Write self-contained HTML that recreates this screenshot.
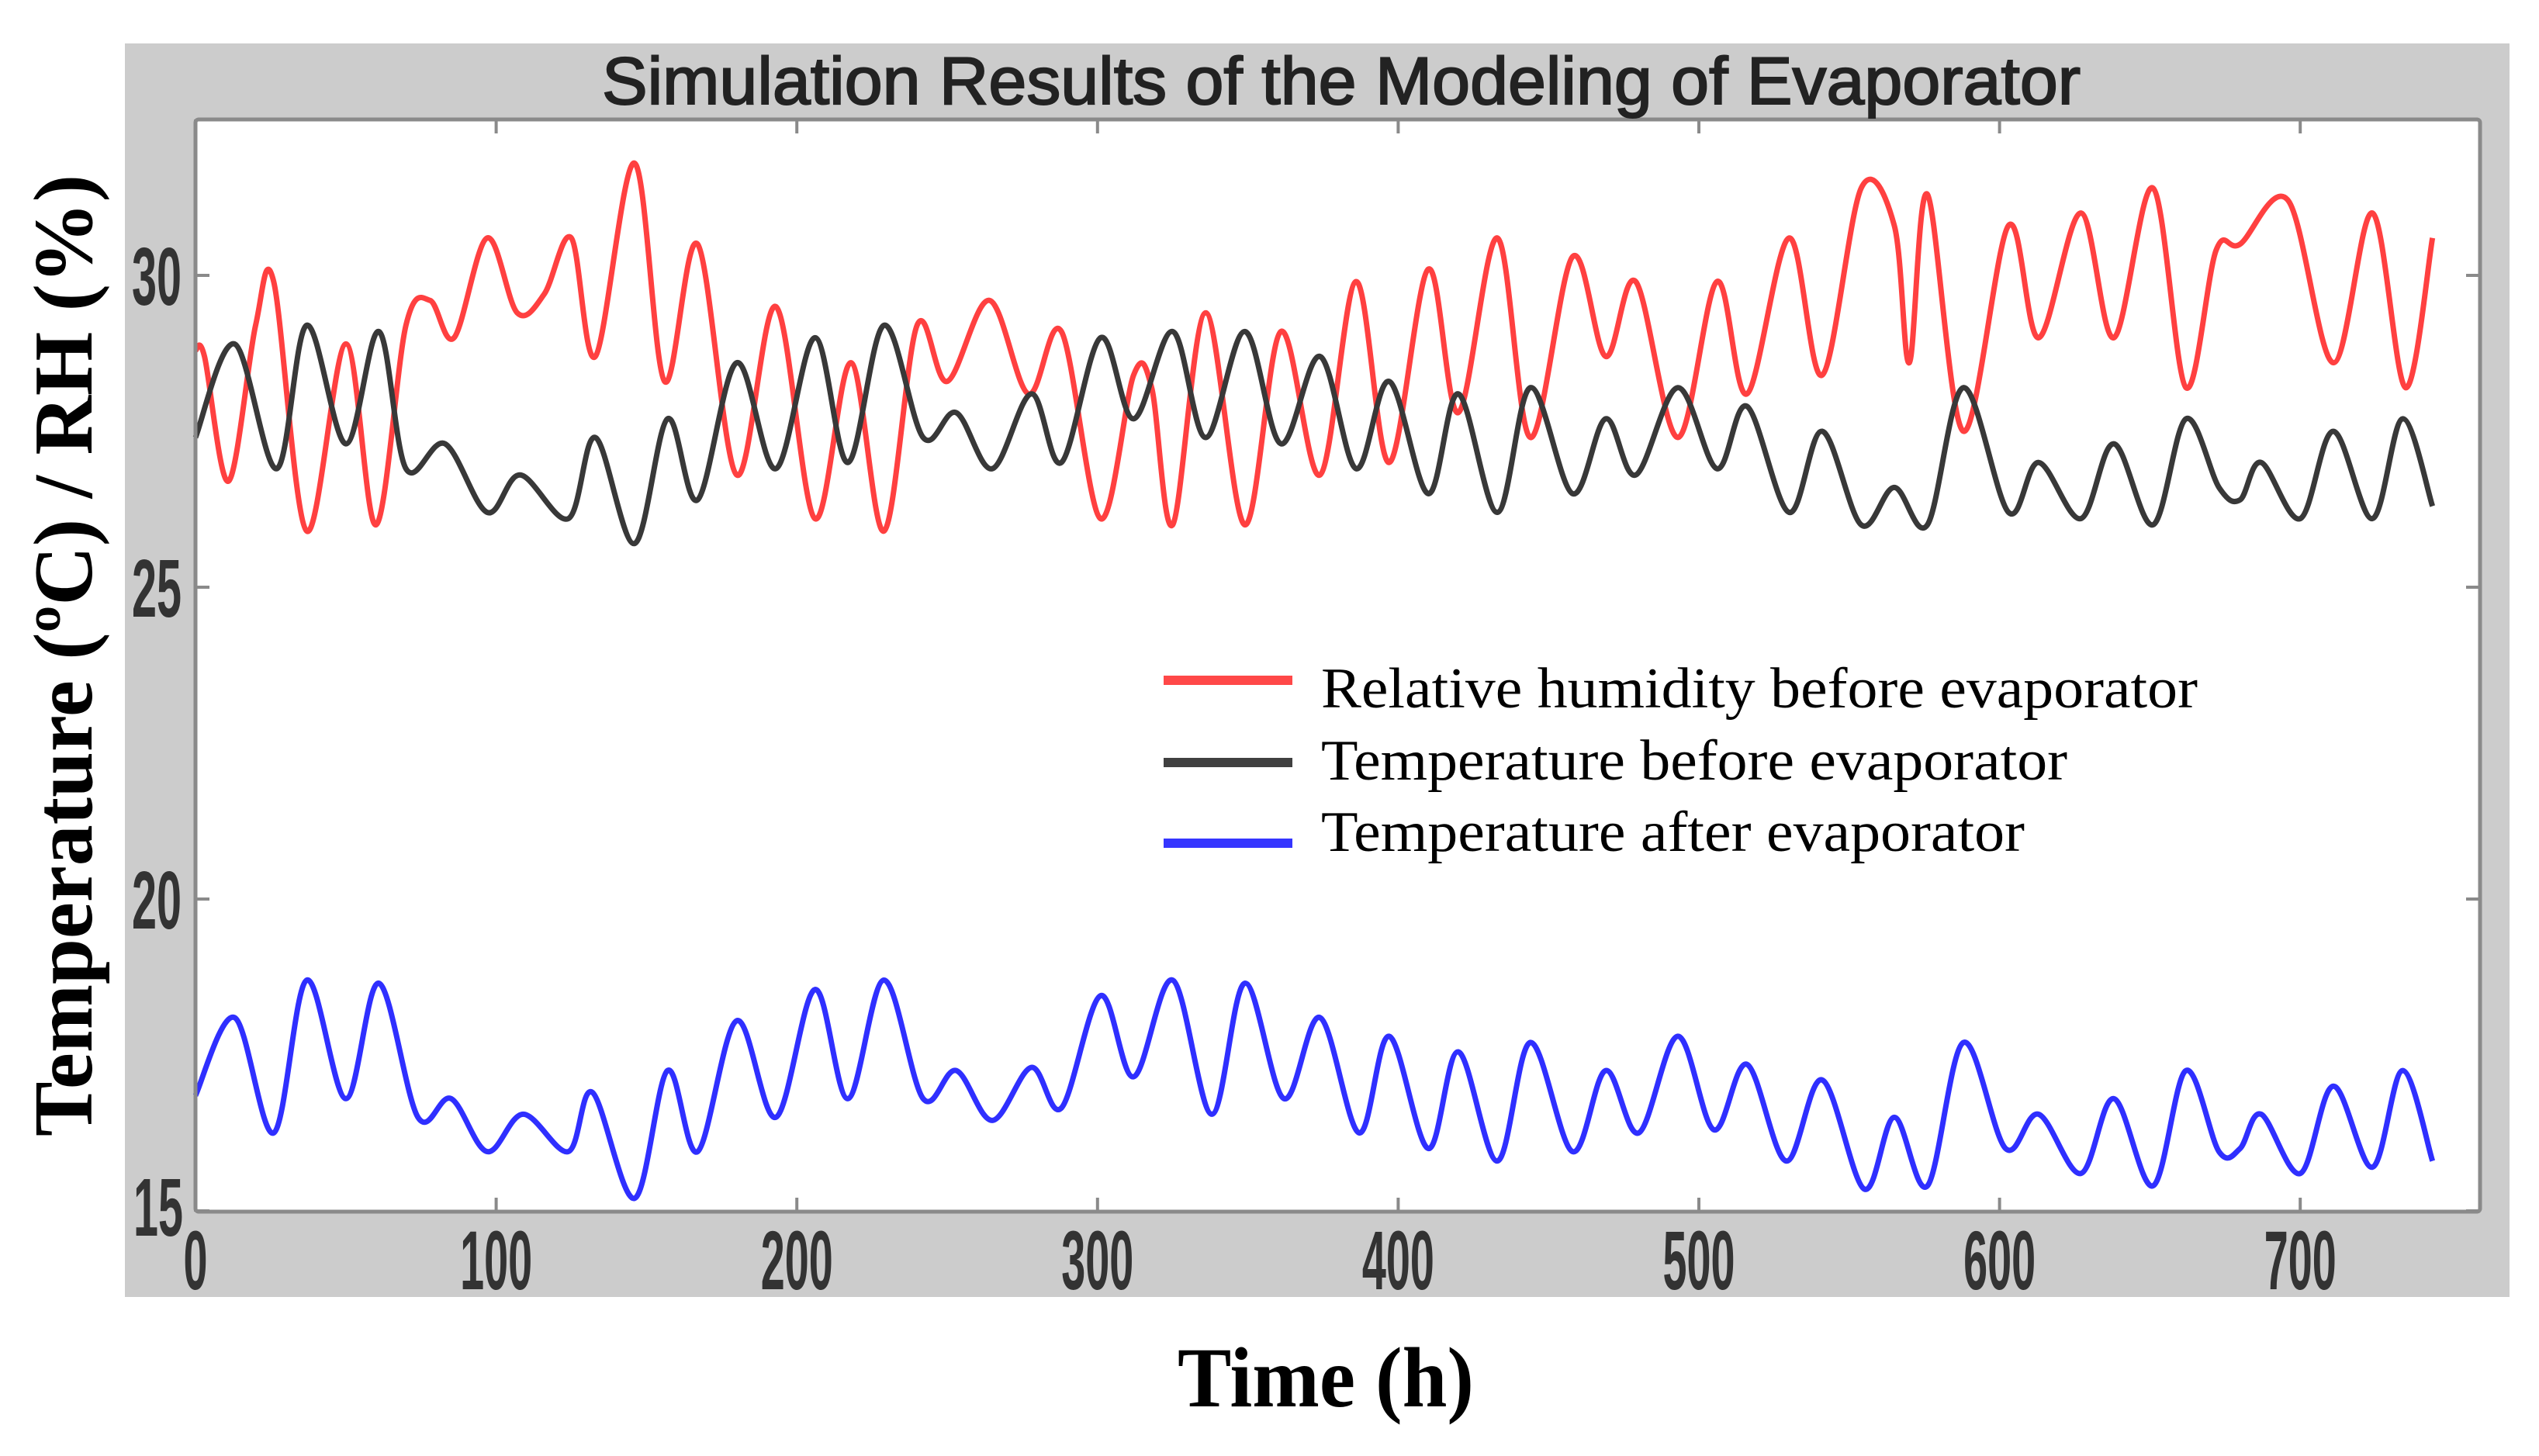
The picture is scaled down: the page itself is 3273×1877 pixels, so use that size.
<!DOCTYPE html>
<html><head><meta charset="utf-8"><style>
html,body{margin:0;padding:0;background:#fff;}
svg{display:block;}
</style></head><body>
<svg id="chart" width="3273" height="1877" viewBox="0 0 3273 1877" xmlns="http://www.w3.org/2000/svg">
<rect x="161" y="56" width="3074" height="1616" fill="#cccccc"/>
<rect x="252" y="154" width="2945" height="1408" fill="#ffffff"/>
<g id="grid"></g>
<g id="series"></g>
<rect x="252" y="154" width="2945" height="1408" fill="none" stroke="#8a8a8a" stroke-width="5" rx="4"/>
<g id="ticks"></g>
<text x="1729" y="134" text-anchor="middle" font-family="Liberation Sans, sans-serif" font-size="86" textLength="1906" lengthAdjust="spacingAndGlyphs" fill="#222" stroke="#222" stroke-width="2">Simulation Results of the Modeling of Evaporator</text>
<text transform="translate(118,845) rotate(-90)" text-anchor="middle" font-family="Liberation Serif, serif" font-weight="bold" font-size="108" textLength="1240" lengthAdjust="spacingAndGlyphs" fill="#000">Temperature (ºC) / RH (%)</text>
<text x="1709" y="1813" text-anchor="middle" font-family="Liberation Serif, serif" font-weight="bold" font-size="110" textLength="382" lengthAdjust="spacingAndGlyphs" fill="#000">Time (h)</text>
<g>
<line x1="1500" y1="877" x2="1666" y2="877" stroke="#ff4848" stroke-width="12"/>
<text x="1703" y="912" font-family="Liberation Serif, serif" font-size="74" textLength="1130" lengthAdjust="spacingAndGlyphs">Relative humidity before evaporator</text>
<line x1="1500" y1="983" x2="1666" y2="983" stroke="#404040" stroke-width="12"/>
<text x="1703" y="1005" font-family="Liberation Serif, serif" font-size="74" textLength="962" lengthAdjust="spacingAndGlyphs">Temperature before evaporator</text>
<line x1="1500" y1="1087" x2="1666" y2="1087" stroke="#3535ff" stroke-width="12"/>
<text x="1703" y="1097" font-family="Liberation Serif, serif" font-size="74" textLength="907" lengthAdjust="spacingAndGlyphs">Temperature after evaporator</text>
</g>
</svg>
<script>
const xTicks = [0,100,200,300,400,500,600,700];
const yTicks = [15,20,25,30];
const rhT = [0,3,11,20,26,37,50,60,70,78,86,97,107,116,125,133,146,156,167,180,193,206,218,229,240,250,264,277,288,301,312,318,325,336,349,361,374,386,397,410,420,433,444,458,469,479,493,506,516,530,541,554,565,570,576,588,603,613,627,638,651,662,672,680,696,711,724,735,744];
const rhV = [28.8,28.7,26.7,29.2,29.9,25.9,28.9,26.0,29.2,29.6,29.0,30.6,29.4,29.7,30.6,28.7,31.8,28.3,30.5,26.8,29.5,26.1,28.6,25.9,29.2,28.3,29.6,28.1,29.1,26.1,28.4,28.2,26.0,29.4,26.0,29.1,26.8,29.9,27.0,30.1,27.8,30.6,27.4,30.3,28.7,29.9,27.4,29.9,28.1,30.6,28.4,31.4,30.8,28.6,31.3,27.5,30.8,29.0,31.0,29.0,31.4,28.2,30.4,30.5,31.2,28.6,31.0,28.2,30.6];
const tbT = [0,13,27,37,50,61,70,83,97,108,124,133,146,157,167,180,193,206,217,229,242,253,265,278,288,301,312,325,336,349,361,374,386,397,410,420,433,444,458,469,479,493,506,516,530,541,554,565,576,588,603,613,627,638,651,662,673,680,687,700,711,724,734,744];
const tbV = [27.4,28.9,26.9,29.2,27.3,29.1,26.9,27.3,26.2,26.8,26.1,27.4,25.7,27.7,26.4,28.6,26.9,29.0,27.0,29.2,27.4,27.8,26.9,28.1,27.0,29.0,27.7,29.1,27.4,29.1,27.3,28.7,26.9,28.3,26.5,28.1,26.2,28.2,26.5,27.7,26.8,28.2,26.9,27.9,26.2,27.5,26.0,26.6,26.0,28.2,26.2,27.0,26.1,27.3,26.0,27.7,26.6,26.4,27.0,26.1,27.5,26.1,27.7,26.3];
const taT = [0,13,26,37,50,61,74,85,97,109,124,132,146,157,167,180,193,206,217,229,242,253,265,278,288,301,312,325,338,349,362,374,387,397,410,420,433,444,458,469,480,493,505,516,529,541,555,565,576,588,602,613,627,638,651,662,673,680,687,700,711,724,734,744];
const taV = [16.85,18.1,16.25,18.7,16.8,18.65,16.5,16.8,15.95,16.55,15.95,16.9,15.2,17.25,15.95,18.05,16.5,18.55,16.8,18.7,16.8,17.25,16.45,17.3,16.65,18.45,17.15,18.7,16.55,18.65,16.8,18.1,16.25,17.8,16.0,17.55,15.8,17.7,15.95,17.25,16.25,17.8,16.3,17.35,15.8,17.1,15.35,16.5,15.4,17.7,16.0,16.55,15.6,16.8,15.4,17.25,15.95,16.0,16.55,15.6,17.0,15.7,17.25,15.8];

const X0=252, PX=3.876, Y30=355, PY=80.4;
function xs(t){return X0+t*PX;}
function ys(v){return Y30+(30-v)*PY;}
const NS='http://www.w3.org/2000/svg';
function smoothPath(T,V){
  const p=T.map((t,i)=>[xs(t),ys(V[i])]);
  let d='M'+p[0][0].toFixed(1)+','+p[0][1].toFixed(1);
  for(let i=0;i<p.length-1;i++){
    const p0=p[Math.max(0,i-1)],p1=p[i],p2=p[i+1],p3=p[Math.min(p.length-1,i+2)];
    const c1=[p1[0]+(p2[0]-p0[0])/6,p1[1]+(p2[1]-p0[1])/6];
    const c2=[p2[0]-(p3[0]-p1[0])/6,p2[1]-(p3[1]-p1[1])/6];
    d+='C'+c1[0].toFixed(1)+','+c1[1].toFixed(1)+' '+c2[0].toFixed(1)+','+c2[1].toFixed(1)+' '+p2[0].toFixed(1)+','+p2[1].toFixed(1);
  }
  return d;
}
const sg=document.getElementById('series');
function addLine(T,V,color,name){
  const el=document.createElementNS(NS,'path');
  el.setAttribute('d',smoothPath(T,V));
  el.setAttribute('fill','none');
  el.setAttribute('stroke',color);
  el.setAttribute('stroke-width','7');
  el.setAttribute('stroke-linejoin','round');
  
  
  sg.appendChild(el);
}
addLine(rhT,rhV,'#ff4040','rh-before-line');
addLine(tbT,tbV,'#383838','temp-before-line');
addLine(taT,taV,'#2f2fff','temp-after-line');

const tg=document.getElementById('ticks');
xTicks.forEach(t=>{
  const x=xs(t);
  [[154,172],[1562,1544]].forEach(([a,b])=>{
    const l=document.createElementNS(NS,'line');
    l.setAttribute('x1',x);l.setAttribute('x2',x);l.setAttribute('y1',a);l.setAttribute('y2',b);
    l.setAttribute('stroke','#8a8a8a');l.setAttribute('stroke-width','4');
    
    
    tg.appendChild(l);
  });
  const tx=document.createElementNS(NS,'text');
  tx.setAttribute('x',x);tx.setAttribute('y',1662);
  tx.setAttribute('text-anchor','middle');
  tx.setAttribute('font-family','Liberation Sans, sans-serif');
  tx.setAttribute('font-size','108');
  tx.setAttribute('font-weight','bold');
  tx.setAttribute('fill','#333');
  const s=String(t);
  tx.setAttribute('textLength',s.length*31);
  tx.setAttribute('lengthAdjust','spacingAndGlyphs');
  tx.textContent=s;
  
  
  tg.appendChild(tx);
});
yTicks.forEach(v=>{
  const y=ys(v);
  [[252,270],[3197,3179]].forEach(([a,b])=>{
    const l=document.createElementNS(NS,'line');
    l.setAttribute('x1',a);l.setAttribute('x2',b);l.setAttribute('y1',y);l.setAttribute('y2',y);
    l.setAttribute('stroke','#8a8a8a');l.setAttribute('stroke-width','4');
    
    
    tg.appendChild(l);
  });
  const tx=document.createElementNS(NS,'text');
  tx.setAttribute('x',v===15?236:234);tx.setAttribute('y',v===15?y+32:y+38);
  tx.setAttribute('text-anchor','end');
  tx.setAttribute('font-family','Liberation Sans, sans-serif');
  tx.setAttribute('font-size','106');
  tx.setAttribute('font-weight','bold');
  tx.setAttribute('fill','#333');
  tx.setAttribute('textLength',String(v).length*32);
  tx.setAttribute('lengthAdjust','spacingAndGlyphs');
  tx.textContent=String(v);
  
  
  tg.appendChild(tx);
});
</script>
</body></html>
